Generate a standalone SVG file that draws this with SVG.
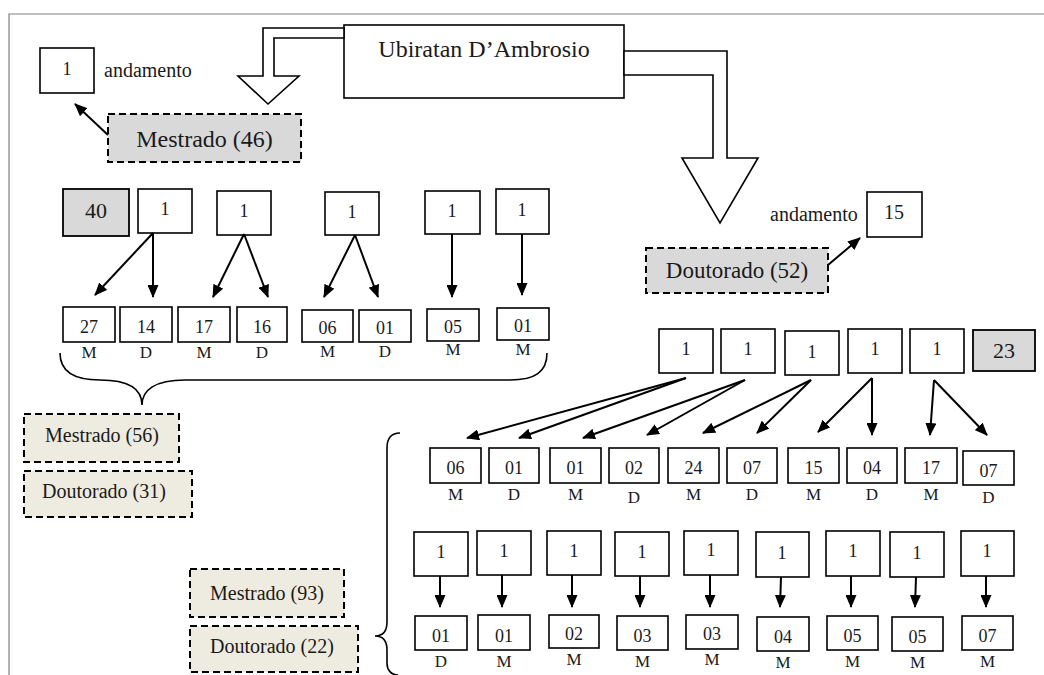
<svg xmlns="http://www.w3.org/2000/svg" width="1044" height="675" viewBox="0 0 1044 675">
<defs>
<marker id="ah" markerUnits="userSpaceOnUse" markerWidth="13" markerHeight="11" refX="12" refY="5.5" orient="auto">
<path d="M0,0 L13,5.5 L0,11 z" fill="#000"/>
</marker>
<style>
.b{fill:#fff;stroke:#000;stroke-width:1.6}
.g{fill:#d9d9d9;stroke:#000;stroke-width:1.8}
.dg{fill:#d9d9d9;stroke:#000;stroke-width:2;stroke-dasharray:7 4}
.db{fill:#eeebe0;stroke:#000;stroke-width:2;stroke-dasharray:7 4}
.ha{fill:#fff;stroke:#000;stroke-width:1.6;stroke-linejoin:miter}
.br{fill:none;stroke:#000;stroke-width:1.6}
text{font-family:"Liberation Serif","Times New Roman",serif;fill:#1a1a1a;text-anchor:middle}
.n{font-size:18px}
.l{font-size:17px}
.t20{font-size:20px}
.st{text-anchor:start}
#conn line{stroke:#000;stroke-width:2;marker-end:url(#ah)}
</style>
</defs>
<rect width="1044" height="675" fill="#fff"/>
<path d="M9,675 L9,14 L1044,14" fill="none" stroke="#808080" stroke-width="1.2"/>

<g id="ubiratan"><rect class="b" x="344" y="25" width="280" height="73"/><text x="484" y="57" style="font-size:24px">Ubiratan D’Ambrosio</text></g>
<g id="bigArrowLeft"><polygon class="ha" points="344,28 263,28 263,76 238,76 268,104 299,76 274,76 274,38 344,38"/></g>
<g id="bigArrowRight"><polygon class="ha" points="624,51 727,51 727,158 758,158 720,223 682,158 713,158 713,75 624,75"/></g>

<g id="andLeft"><rect class="b" x="40" y="48" width="54" height="45"/><text class="n" x="67" y="75">1</text><text class="t20 st" x="104" y="77">andamento</text></g>
<g id="mestrado46"><rect class="dg" x="108" y="114" width="193" height="48"/><text x="204.5" y="147" style="font-size:24px">Mestrado (46)</text></g>
<g id="andRight"><text class="t20 st" x="770" y="221">andamento</text><rect class="b" x="867" y="192" width="55" height="45"/><text x="894" y="219" style="font-size:20px">15</text></g>
<g id="doutorado52"><rect class="dg" x="646" y="248" width="182" height="45"/><text x="737" y="278" style="font-size:23px">Doutorado (52)</text></g>

<g id="m40"><rect class="g" x="63" y="189" width="66" height="47"/><text x="96" y="218" style="font-size:22px">40</text></g>
<g id="mL1"><rect class="b" x="138" y="189" width="54" height="44"/><text class="n" x="165" y="215">1</text></g>
<g id="mL2"><rect class="b" x="217" y="191" width="54" height="44"/><text class="n" x="244" y="217">1</text></g>
<g id="mL3"><rect class="b" x="325" y="192" width="54" height="43"/><text class="n" x="352" y="218">1</text></g>
<g id="mL4"><rect class="b" x="425" y="191" width="55" height="43"/><text class="n" x="452" y="217">1</text></g>
<g id="mL5"><rect class="b" x="496" y="189" width="53" height="45"/><text class="n" x="522" y="216">1</text></g>

<g id="mB1"><rect class="b" x="63" y="307" width="52" height="35"/><text class="n" x="89" y="333">27</text><text class="l" x="89" y="358">M</text></g>
<g id="mB2"><rect class="b" x="120" y="307" width="52" height="35"/><text class="n" x="146" y="333">14</text><text class="l" x="146" y="358">D</text></g>
<g id="mB3"><rect class="b" x="178" y="307" width="52" height="35"/><text class="n" x="204" y="333">17</text><text class="l" x="204" y="358">M</text></g>
<g id="mB4"><rect class="b" x="237" y="307" width="50" height="35"/><text class="n" x="262" y="333">16</text><text class="l" x="262" y="358">D</text></g>
<g id="mB5"><rect class="b" x="302" y="310" width="51" height="32"/><text class="n" x="327.5" y="334">06</text><text class="l" x="327.5" y="357">M</text></g>
<g id="mB6"><rect class="b" x="359" y="310" width="52" height="32"/><text class="n" x="385" y="334">01</text><text class="l" x="385" y="357">D</text></g>
<g id="mB7"><rect class="b" x="427" y="309" width="52" height="32"/><text class="n" x="453" y="333">05</text><text class="l" x="453" y="355">M</text></g>
<g id="mB8"><rect class="b" x="497" y="308" width="52" height="32"/><text class="n" x="523" y="332">01</text><text class="l" x="523" y="355">M</text></g>

<g id="braceLeft"><path class="br" d="M60,353 C60,372 75,380 100,380 C130,380 142,390 142,405 C142,390 155,380 185,380 L510,380 C535,380 547,372 547,353"/></g>
<g id="mestrado56"><rect class="db" x="24" y="414" width="155" height="48"/><text class="t20" x="102" y="442">Mestrado (56)</text></g>
<g id="doutorado31"><rect class="db" x="24" y="471" width="168" height="46"/><text class="t20" x="104" y="498">Doutorado (31)</text></g>

<g id="dT1"><rect class="b" x="659" y="329" width="54" height="44"/><text class="n" x="686" y="355">1</text></g>
<g id="dT2"><rect class="b" x="721" y="329" width="54" height="44"/><text class="n" x="748" y="355">1</text></g>
<g id="dT3"><rect class="b" x="785" y="331" width="54" height="44"/><text class="n" x="812" y="358">1</text></g>
<g id="dT4"><rect class="b" x="848" y="329" width="54" height="44"/><text class="n" x="875" y="355">1</text></g>
<g id="dT5"><rect class="b" x="910" y="329" width="54" height="44"/><text class="n" x="937" y="355">1</text></g>
<g id="d23"><rect class="g" x="973" y="330" width="62" height="41"/><text x="1004" y="358" style="font-size:22px">23</text></g>

<g id="dM1"><rect class="b" x="430" y="448" width="51" height="35"/><text class="n" x="455.5" y="474">06</text><text class="l" x="455.5" y="500">M</text></g>
<g id="dM2"><rect class="b" x="489" y="448" width="50" height="35"/><text class="n" x="514" y="474">01</text><text class="l" x="514" y="500">D</text></g>
<g id="dM3"><rect class="b" x="550" y="448" width="51" height="35"/><text class="n" x="575.5" y="474">01</text><text class="l" x="575.5" y="500">M</text></g>
<g id="dM4"><rect class="b" x="609" y="448" width="50" height="35"/><text class="n" x="634" y="474">02</text><text class="l" x="634" y="503">D</text></g>
<g id="dM5"><rect class="b" x="668" y="448" width="51" height="35"/><text class="n" x="693.5" y="474">24</text><text class="l" x="693.5" y="500">M</text></g>
<g id="dM6"><rect class="b" x="727" y="448" width="50" height="35"/><text class="n" x="752" y="474">07</text><text class="l" x="752" y="500">D</text></g>
<g id="dM7"><rect class="b" x="788" y="448" width="51" height="35"/><text class="n" x="813.5" y="474">15</text><text class="l" x="813.5" y="500">M</text></g>
<g id="dM8"><rect class="b" x="847" y="448" width="50" height="35"/><text class="n" x="872" y="474">04</text><text class="l" x="872" y="500">D</text></g>
<g id="dM9"><rect class="b" x="905" y="448" width="52" height="35"/><text class="n" x="931" y="474">17</text><text class="l" x="931" y="500">M</text></g>
<g id="dM10"><rect class="b" x="963" y="451" width="51" height="34"/><text class="n" x="988.5" y="477">07</text><text class="l" x="988.5" y="503">D</text></g>

<g id="braceRight"><path class="br" d="M400,433 C391,433 387,438 387,448 L387,622 C387,632 383,636 375,636 C383,636 387,640 387,650 L387,663 C387,670 391,675 398,675"/></g>
<g id="mestrado93"><rect class="db" x="190" y="569" width="154" height="48"/><text class="t20" x="267" y="600">Mestrado (93)</text></g>
<g id="doutorado22"><rect class="db" x="190" y="626" width="168" height="46"/><text class="t20" x="272" y="653">Doutorado (22)</text></g>

<g id="dU1"><rect class="b" x="414" y="532" width="54" height="44"/><text class="n" x="441" y="558">1</text></g>
<g id="dU2"><rect class="b" x="477" y="531" width="54" height="44"/><text class="n" x="504" y="557">1</text></g>
<g id="dU3"><rect class="b" x="547" y="531" width="54" height="44"/><text class="n" x="574" y="557">1</text></g>
<g id="dU4"><rect class="b" x="615" y="532" width="54" height="44"/><text class="n" x="642" y="558">1</text></g>
<g id="dU5"><rect class="b" x="684" y="531" width="54" height="44"/><text class="n" x="711" y="556">1</text></g>
<g id="dU6"><rect class="b" x="756" y="532" width="53" height="45"/><text class="n" x="782" y="559">1</text></g>
<g id="dU7"><rect class="b" x="826" y="531" width="54" height="45"/><text class="n" x="853" y="557">1</text></g>
<g id="dU8"><rect class="b" x="890" y="532" width="54" height="45"/><text class="n" x="917" y="559">1</text></g>
<g id="dU9"><rect class="b" x="961" y="531" width="53" height="45"/><text class="n" x="987" y="557">1</text></g>

<g id="dV1"><rect class="b" x="415" y="616" width="52" height="34"/><text class="n" x="441" y="642">01</text><text class="l" x="441" y="667">D</text></g>
<g id="dV2"><rect class="b" x="478" y="615" width="52" height="35"/><text class="n" x="504" y="642">01</text><text class="l" x="504" y="667">M</text></g>
<g id="dV3"><rect class="b" x="549" y="615" width="50" height="33"/><text class="n" x="574" y="640">02</text><text class="l" x="574" y="665">M</text></g>
<g id="dV4"><rect class="b" x="617" y="616" width="51" height="34"/><text class="n" x="642.5" y="642">03</text><text class="l" x="642.5" y="667">M</text></g>
<g id="dV5"><rect class="b" x="686" y="615" width="52" height="34"/><text class="n" x="712" y="640">03</text><text class="l" x="712" y="665">M</text></g>
<g id="dV6"><rect class="b" x="757" y="617" width="52" height="34"/><text class="n" x="783" y="643">04</text><text class="l" x="783" y="668">M</text></g>
<g id="dV7"><rect class="b" x="827" y="616" width="51" height="34"/><text class="n" x="852.5" y="642">05</text><text class="l" x="852.5" y="667">M</text></g>
<g id="dV8"><rect class="b" x="892" y="617" width="51" height="34"/><text class="n" x="917.5" y="643">05</text><text class="l" x="917.5" y="668">M</text></g>
<g id="dV9"><rect class="b" x="962" y="616" width="51" height="34"/><text class="n" x="987.5" y="642">07</text><text class="l" x="987.5" y="667">M</text></g>

<g id="conn">
<line x1="108" y1="135" x2="75" y2="104"/>
<line x1="828" y1="265" x2="860" y2="238"/>
<line x1="153" y1="233" x2="95" y2="295"/>
<line x1="153" y1="233" x2="153" y2="297"/>
<line x1="244" y1="234" x2="213" y2="297"/>
<line x1="244" y1="234" x2="268" y2="297"/>
<line x1="355" y1="235" x2="324" y2="297"/>
<line x1="355" y1="235" x2="378" y2="297"/>
<line x1="452" y1="234" x2="452" y2="297"/>
<line x1="522" y1="234" x2="522" y2="295"/>
<line x1="686" y1="378" x2="467" y2="438"/>
<line x1="686" y1="378" x2="519" y2="438"/>
<line x1="745" y1="380" x2="583" y2="438"/>
<line x1="745" y1="380" x2="647" y2="435"/>
<line x1="811" y1="380" x2="703" y2="433"/>
<line x1="811" y1="380" x2="757" y2="433"/>
<line x1="872" y1="378" x2="818" y2="432"/>
<line x1="872" y1="378" x2="872" y2="435"/>
<line x1="934" y1="380" x2="930" y2="435"/>
<line x1="934" y1="380" x2="987" y2="435"/>
<line x1="440" y1="576" x2="440" y2="607"/>
<line x1="502" y1="575" x2="502" y2="607"/>
<line x1="572" y1="575" x2="572" y2="607"/>
<line x1="640" y1="576" x2="640" y2="607"/>
<line x1="710" y1="575" x2="710" y2="607"/>
<line x1="781" y1="577" x2="780" y2="607"/>
<line x1="851" y1="576" x2="851" y2="607"/>
<line x1="916" y1="577" x2="915" y2="607"/>
<line x1="986" y1="576" x2="986" y2="607"/>
</g>
</svg>
